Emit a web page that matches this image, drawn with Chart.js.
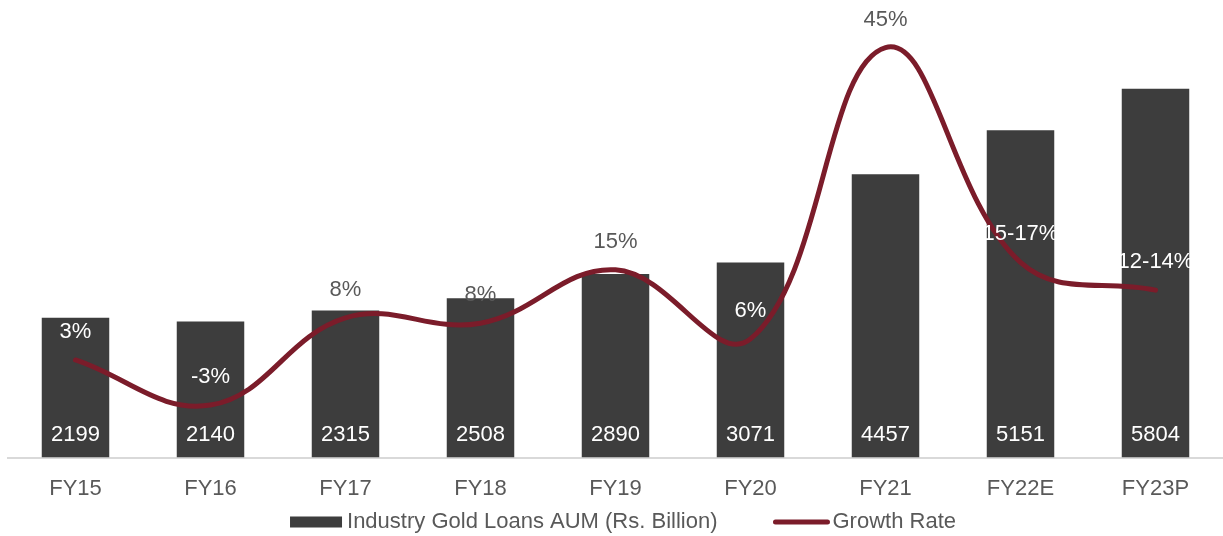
<!DOCTYPE html>
<html lang="en">
<head>
    <meta charset="UTF-8">
    <title>Industry Gold Loans AUM</title>
    <script src="https://cdn.jsdelivr.net/npm/chart.js"></script>
    <style>
        html, body { margin: 0; padding: 0; background: #fff; }
        #chartContainer { width: 1223px; height: 536px; }
    </style>
</head>
<body>
    <div id="chartContainer">
        <canvas id="goldChart"></canvas>
    </div>
    <script>
        // Data
        const years = ["FY15", "FY16", "FY17", "FY18", "FY19", "FY20", "FY21", "FY22E", "FY23P"];
        const aum = [2199, 2140, 2315, 2508, 2890, 3071, 4457, 5151, 5804];
        const growth = [3, -3, 8.6, 7.9, 15, 5.8, 44.6, 16, 12.3];
        const growthLabels = ["3%", "-3%", "8%", "8%", "15%", "6%", "45%", "15-17%", "12-14%"];

        const barColor = "#3d3d3d";
        const lineColor = "#7b1c2a";
        const textColor = "#595959";
        const font = "Liberation Sans, Arial, sans-serif";

        // Value labels on bars and line, plus the legend at the bottom
        const labelsPlugin = {
            id: "labelsPlugin",
            afterDatasetsDraw(chart) {
                const ctx = chart.ctx;
                const bars = chart.getDatasetMeta(0).data;
                const points = chart.getDatasetMeta(1).data;
                const bottom = chart.chartArea.bottom;
                ctx.save();
                ctx.font = "22px " + font;
                ctx.textAlign = "center";
                ctx.textBaseline = "middle";

                bars.forEach((bar, i) => {
                    ctx.fillStyle = "#ffffff";
                    ctx.fillText(String(aum[i]), bar.x, bottom - 23);
                });

                points.forEach((pt, i) => {
                    const y = pt.y - 28;
                    ctx.fillStyle = y > bars[i].y ? "#ffffff" : textColor;
                    ctx.fillText(growthLabels[i], pt.x, y);
                });
                ctx.restore();
            },
            afterDraw(chart) {
                const ctx = chart.ctx;
                ctx.save();
                ctx.font = "22px " + font;
                ctx.textBaseline = "middle";
                const t1 = "Industry Gold Loans AUM (Rs. Billion)";
                const t2 = "Growth Rate";
                const w1 = ctx.measureText(t1).width;
                const w2 = ctx.measureText(t2).width;
                const total = 52 + 5 + w1 + 56 + 56 + 3 + w2;
                let x = 623 - total / 2;
                const y = 522;

                ctx.fillStyle = barColor;
                ctx.fillRect(x, y - 5.5, 52, 11);
                x += 57;
                ctx.fillStyle = textColor;
                ctx.fillText(t1, x, y);
                x += w1 + 56;

                ctx.strokeStyle = lineColor;
                ctx.lineWidth = 5;
                ctx.lineCap = "round";
                ctx.beginPath();
                ctx.moveTo(x + 2, y);
                ctx.lineTo(x + 54, y);
                ctx.stroke();
                x += 59;
                ctx.fillStyle = textColor;
                ctx.fillText(t2, x, y);
                ctx.restore();
            }
        };

        const ctx = document.getElementById("goldChart").getContext("2d");

        new Chart(ctx, {
            data: {
                labels: years,
                datasets: [
                    {
                        type: "bar",
                        label: "Industry Gold Loans AUM (Rs. Billion)",
                        data: aum,
                        backgroundColor: barColor,
                        barPercentage: 0.5,
                        categoryPercentage: 1,
                        yAxisID: "y",
                        order: 2,
                    },
                    {
                        type: "line",
                        label: "Growth Rate",
                        data: growth,
                        borderColor: lineColor,
                        borderWidth: 5,
                        borderCapStyle: "round",
                        tension: 0.4,
                        pointRadius: 0,
                        fill: false,
                        yAxisID: "y1",
                        order: 1,
                    },
                ],
            },
            options: {
                responsive: true,
                maintainAspectRatio: false,
                animation: false,
                layout: {
                    padding: { left: 8, right: 0, top: 7, bottom: 16 },
                },
                plugins: {
                    legend: { display: false },
                    tooltip: { enabled: false },
                },
                scales: {
                    x: {
                        grid: { display: false, drawTicks: false },
                        border: { display: true, color: "#d9d9d9", width: 2 },
                        ticks: {
                            color: textColor,
                            font: { family: font, size: 22 },
                            padding: 18,
                            maxRotation: 0,
                        },
                    },
                    y: {
                        display: false,
                        min: 0,
                        max: 7090,
                    },
                    y1: {
                        display: false,
                        min: -10,
                        max: 50,
                    },
                },
            },
            plugins: [labelsPlugin],
        });
    </script>
</body>
</html>
